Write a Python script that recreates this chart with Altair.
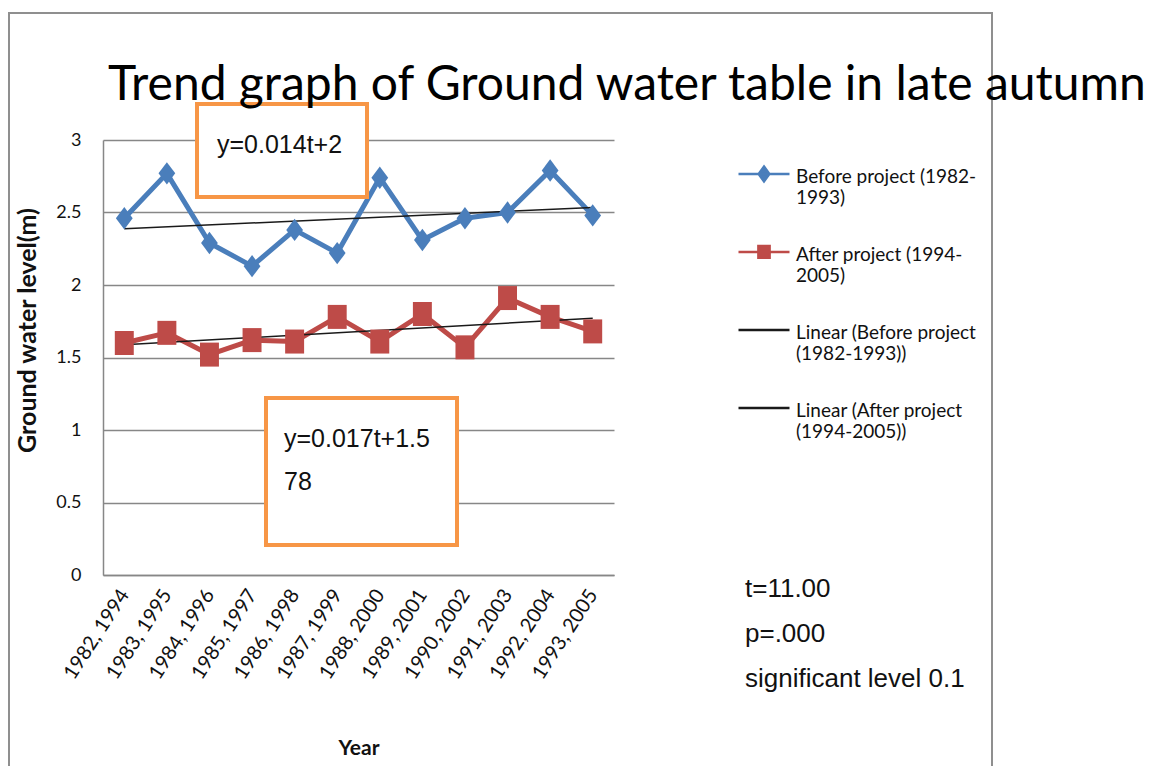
import altair as alt
import pandas as pd

TITLE = "Trend graph of Ground water table in late autumn"
YEARS = ["1982, 1994", "1983, 1995", "1984, 1996", "1985, 1997", "1986, 1998", "1987, 1999",
         "1988, 2000", "1989, 2001", "1990, 2002", "1991, 2003", "1992, 2004", "1993, 2005"]
BEFORE = [2.46, 2.77, 2.29, 2.13, 2.38, 2.22, 2.74, 2.31, 2.46, 2.50, 2.79, 2.48]
AFTER = [1.60, 1.67, 1.52, 1.62, 1.61, 1.78, 1.61, 1.80, 1.57, 1.91, 1.78, 1.68]
SERIES = ["Before project (1982-1993)", "After project (1994-2005)",
          "Linear (Before project (1982-1993))", "Linear (After project (1994-2005))"]
LEGEND_LINES = [["Before project (1982-", "1993)"], ["After project (1994-", "2005)"],
                ["Linear (Before project", "(1982-1993))"], ["Linear (After project", "(1994-2005))"]]
Y_TITLE = "Ground water level(m)"
X_TITLE = "Year"
Y_TICKS = [0, 0.5, 1, 1.5, 2, 2.5, 3]
EQ_BEFORE = ["y=0.014t+2"]
EQ_AFTER = ["y=0.017t+1.5", "78"]
STATS = ["t=11.00", "p=.000", "significant level 0.1"]

BLUE = "#4a7ebb"
RED = "#be4b48"
TREND = "#1a1a1a"
ORANGE = "#f79646"
GRID = "#878787"
TXT = "#111111"
CHART_FONT = "Lato, Liberation Sans, sans-serif"
SANS = "Liberation Sans, Arial, sans-serif"

rows = []
for i, lab in enumerate(YEARS):
    rows.append({"t": i + 1, "label": lab, "series": SERIES[0], "value": BEFORE[i]})
    rows.append({"t": i + 1, "label": lab, "series": SERIES[1], "value": AFTER[i]})
df = pd.DataFrame(rows)
one = pd.DataFrame({"k": [0]})


def js(s):
    return "'" + s.replace("\\", "\\\\").replace("'", "\\'") + "'"


x_label_expr = "[" + ",".join(js(s) for s in YEARS) + "][datum.value - 1]"
legend_expr = "".join(
    f"datum.label == {js(n)} ? [{', '.join(js(l) for l in ls)}] : " for n, ls in zip(SERIES, LEGEND_LINES)
) + "datum.label"

SY = -0.12
P_BEFORE = f"M-1,{SY}H1M0,{SY - 0.29}L0.21,{SY}L0,{SY + 0.29}L-0.21,{SY}Z"
P_AFTER = f"M-1,{SY}H1M-0.22,{SY - 0.23}H0.22V{SY + 0.23}H-0.22Z"
P_LINE = f"M-1,{SY}H1"
DIAMOND = "M0,-1L0.75,0L0,1L-0.75,0Z"
SQUARE = "M-0.79,-1H0.79V1H-0.79Z"

stroke_scale = alt.Scale(domain=SERIES, range=[BLUE, RED, TREND, TREND])
fill_scale = alt.Scale(domain=SERIES, range=[BLUE, RED, "transparent", "transparent"])
shape_scale = alt.Scale(domain=SERIES, range=[P_BEFORE, P_AFTER, P_LINE, P_LINE])

legend = alt.Legend(title=None, orient="none", legendX=634, legendY=10, padding=0,
                    labelExpr=legend_expr, labelFont=CHART_FONT, labelFontSize=19, labelColor=TXT,
                    labelLimit=400, labelOffset=5, rowPadding=20, symbolSize=2601,
                    symbolStrokeWidth=2.5, symbolOpacity=1, direction="vertical")

x_enc = alt.X("t:Q", scale=alt.Scale(domain=[0.5, 12.5], nice=False, zero=False),
              axis=alt.Axis(values=list(range(1, 13)), labelExpr=x_label_expr, title=X_TITLE,
                            grid=False, ticks=False, labelAngle=-57, labelFont=CHART_FONT,
                            labelFontSize=20, labelColor=TXT, labelPadding=16, domainColor=GRID,
                            domainWidth=1.5, titleFont=CHART_FONT, titleFontSize=21,
                            titleFontWeight="bold", titleColor=TXT, titleY=179,
                            titleBaseline="alphabetic", labelOverlap=False, labelFlush=False))
y_enc = alt.Y("value:Q", scale=alt.Scale(domain=[0, 3], nice=False),
              axis=alt.Axis(values=Y_TICKS, format="~g", grid=True, gridColor=GRID, gridWidth=1.5,
                            ticks=False, domainColor=GRID, domainWidth=1.5, labelFont=CHART_FONT,
                            labelFontSize=18, labelColor=TXT, labelPadding=22, title=Y_TITLE,
                            titleFont=CHART_FONT, titleFontSize=25, titleFontWeight="bold",
                            titleColor=TXT, titleX=-63, titleY=190))

base = alt.Chart(df)
single = alt.Chart(one)

frame = single.mark_rect(fill="transparent", stroke="#8f8f8f", strokeWidth=2).encode(
    x=alt.value(-94), x2=alt.value(889), y=alt.value(-127), y2=alt.value(660))

lines = base.transform_filter(alt.FieldOneOfPredicate(field="series", oneOf=SERIES[:2])).mark_line(
    strokeWidth=5, strokeJoin="round", strokeCap="round").encode(
    x=x_enc, y=y_enc, stroke=alt.Stroke("series:N", scale=stroke_scale, legend=legend))

trend = base.transform_regression("t", "value", groupby=["series"]).transform_calculate(
    trend="'Linear (' + datum.series + ')'").mark_line(strokeWidth=1.5).encode(
    x=x_enc, y=y_enc, stroke=alt.Stroke("trend:N", scale=stroke_scale, legend=legend))

mk_before = base.transform_filter(alt.datum.series == SERIES[0]).mark_point(
    shape=DIAMOND, size=500, filled=True, strokeWidth=0, opacity=1).encode(
    x=x_enc, y=y_enc, fill=alt.Fill("series:N", scale=fill_scale, legend=legend))
mk_after = base.transform_filter(alt.datum.series == SERIES[1]).mark_point(
    shape=SQUARE, size=576, filled=True, strokeWidth=0, opacity=1).encode(
    x=x_enc, y=y_enc, fill=alt.Fill("series:N", scale=fill_scale, legend=legend))

leg = base.transform_filter("false").mark_point(filled=True, opacity=1).encode(
    shape=alt.Shape("series:N", scale=shape_scale, legend=legend),
    fill=alt.Fill("series:N", scale=fill_scale, legend=legend),
    stroke=alt.Stroke("series:N", scale=stroke_scale, legend=legend))

box1 = single.mark_rect(fill="white", stroke=ORANGE, strokeWidth=4).encode(
    x=alt.value(94), x2=alt.value(264), y=alt.value(-36), y2=alt.value(57))
eq1 = single.mark_text(text=EQ_BEFORE[0], align="left", baseline="alphabetic", font=SANS,
                       fontSize=25, color=TXT).encode(x=alt.value(114), y=alt.value(13))
box2 = single.mark_rect(fill="white", stroke=ORANGE, strokeWidth=4).encode(
    x=alt.value(163), x2=alt.value(354), y=alt.value(258), y2=alt.value(405))
eq2 = single.mark_text(text=EQ_AFTER, align="left", baseline="alphabetic", font=SANS,
                       fontSize=25, lineHeight=43, color=TXT).encode(x=alt.value(181), y=alt.value(307))
stats = single.mark_text(text=STATS, align="left", baseline="alphabetic", font=SANS,
                         fontSize=26, lineHeight=45, color=TXT).encode(x=alt.value(642), y=alt.value(457))
title = single.mark_text(text=TITLE, align="left", baseline="alphabetic", font=CHART_FONT,
                         fontSize=48, color="#000").encode(x=alt.value(5), y=alt.value(-40))

chart = alt.layer(frame, lines, trend, mk_before, mk_after, box1, eq1, box2, eq2, stats, title, leg).properties(
    width=511, height=435,
    autosize=alt.AutoSizeParams(type="none"),
    padding={"left": 95, "top": 132, "right": 539, "bottom": 191},
    background="white",
).configure_view(stroke="transparent")

chart.save("out.html", embed_options={"renderer": "svg", "actions": False})
